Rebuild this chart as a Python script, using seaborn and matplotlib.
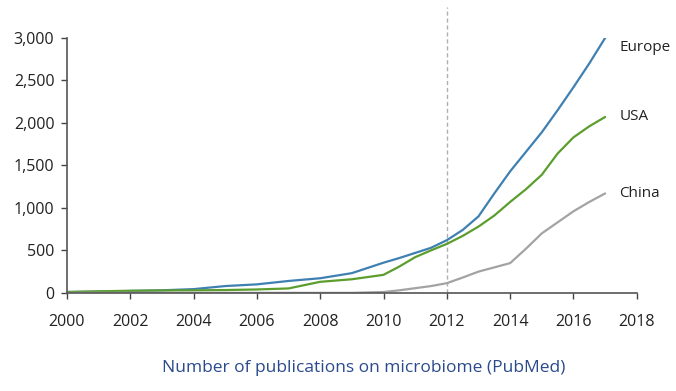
import numpy as np
import pandas as pd
import matplotlib
matplotlib.use("Agg")
import matplotlib.pyplot as plt
import seaborn as sns

# yearly publication counts
years = [2000, 2001, 2002, 2003, 2004, 2005, 2006, 2007, 2008, 2009, 2010,
         2010.5, 2011, 2011.5, 2012, 2012.5, 2013, 2013.5, 2014, 2014.5,
         2015, 2015.5, 2016, 2016.5, 2017]
europe = [10, 15, 22, 30, 44, 80, 100, 140, 172, 232, 355,
          410, 470, 530, 620, 740, 900, 1170, 1430, 1660,
          1890, 2150, 2420, 2700, 3000]
usa = [10, 18, 25, 28, 30, 33, 40, 52, 130, 160, 212,
       310, 420, 500, 576, 670, 780, 910, 1070, 1220,
       1390, 1640, 1830, 1960, 2070]
china = [0, 0, 0, 0, 0, 0, 0, 0, 0, 0, 10,
         30, 55, 80, 114, 180, 250, 300, 350, 520,
         700, 830, 960, 1070, 1170]

regions = ["Europe", "USA", "China"]
label_y = [2890, 2070, 1165]
colors = {"Europe": "#3f80b2", "USA": "#5c9e2e", "China": "#a3a3a3"}

df = pd.DataFrame({
    "year": years * 3,
    "count": europe + usa + china,
    "region": ["Europe"] * len(years) + ["USA"] * len(years) + ["China"] * len(years),
})

sns.set_style("ticks")
plt.rcParams["font.family"] = ["Open Sans", "DejaVu Sans"]

fig = plt.figure(figsize=(6.76, 3.91), dpi=100)
ax = fig.add_axes([0.099, 0.251, 0.843, 0.652])

sns.lineplot(data=df, x="year", y="count", hue="region", hue_order=regions,
             palette=colors, linewidth=1.6, legend=False, ax=ax)

# 2012 marker line, reaching above the plot area
ax.axvline(2012, ymin=0, ymax=1.12, color="#b0b0b0", linestyle=(0, (3, 2)),
           linewidth=1, clip_on=False, zorder=0)

ax.set_xlim(2000, 2018)
ax.set_ylim(0, 3000)
ax.set_xticks(range(2000, 2019, 2))
ax.set_yticks(range(0, 3001, 500))
ax.yaxis.set_major_formatter(matplotlib.ticker.FuncFormatter(lambda v, p: f"{int(v):,}"))
ax.set_xlabel("")
ax.set_ylabel("")
ax.tick_params(axis="both", labelsize=11.5, colors="#444444", length=4, width=1,
               labelcolor="#222222")
ax.tick_params(axis="x", pad=11)
ax.tick_params(axis="y", pad=5)
for s in ["left", "bottom"]:
    ax.spines[s].set_color("#555555")
    ax.spines[s].set_linewidth(1.2)
sns.despine(ax=ax)

# line labels at the right end
for r, ly in zip(regions, label_y):
    ax.text(2017.45, ly, r, fontsize=11, color="#222222",
            va="center", ha="left", clip_on=False)

fig.text(0.538, 0.06, "Number of publications on microbiome (PubMed)",
         ha="center", va="center", fontsize=12.5, color="#2a4a8c")

fig.savefig("out.png", dpi=100)
